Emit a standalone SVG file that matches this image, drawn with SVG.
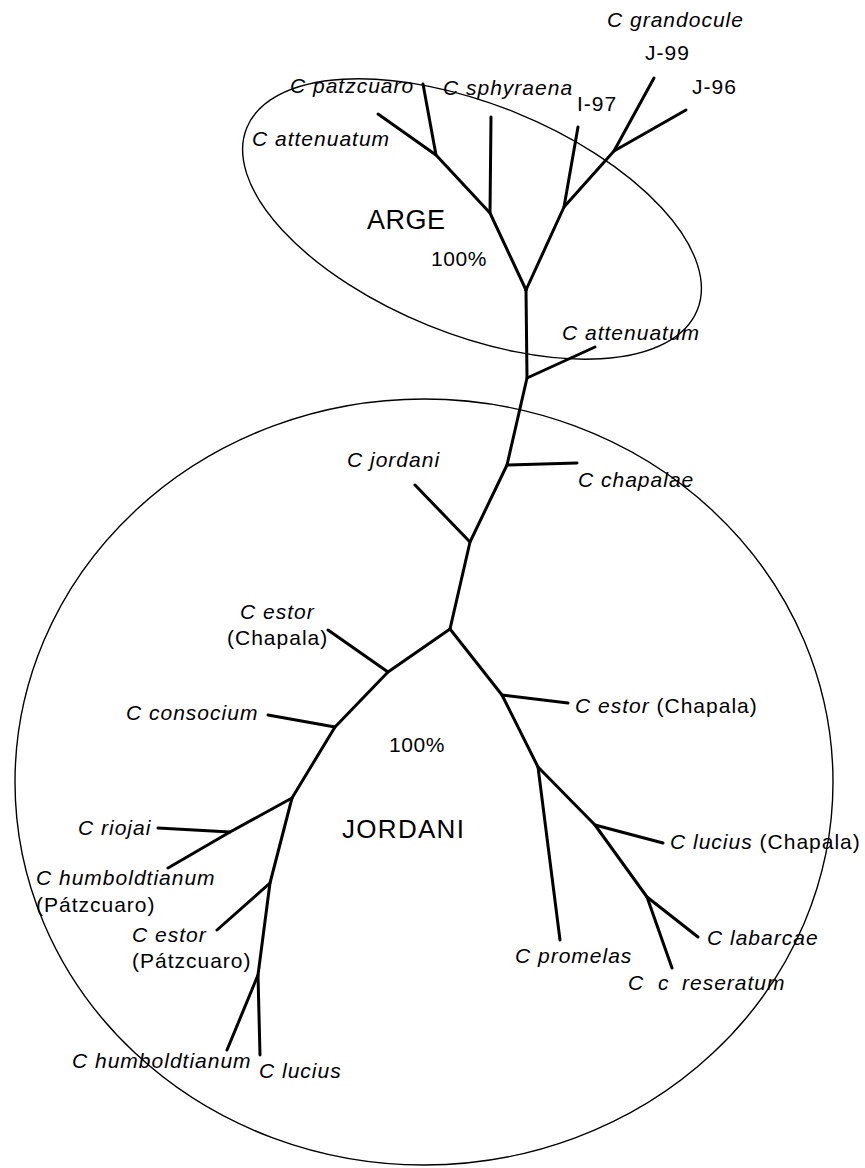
<svg xmlns="http://www.w3.org/2000/svg" width="865" height="1168" viewBox="0 0 865 1168">
  <style>
    .bg { fill: #ffffff; }
    .hull { fill: none; stroke: #000; stroke-width: 1.4; }
    .edge { fill: none; stroke: #000; stroke-width: 3; stroke-linecap: round; stroke-linejoin: round; }
    text { font-family: "Liberation Sans", Arial, sans-serif; font-size: 21px; letter-spacing: 1px; fill: #000; }
    .sp { font-style: italic; }
    .grp { font-size: 26px; letter-spacing: 1.3px; }
    .pct { font-size: 21px; letter-spacing: 0.6px; }
  </style>
  <rect class="bg" x="0" y="0" width="865" height="1168"/>

  <!-- cluster outlines -->
  <g id="clusters">
    <ellipse id="arge-hull" class="hull" cx="472" cy="219" rx="243" ry="115" transform="rotate(22 472 219)"/>
    <ellipse id="jordani-hull" class="hull" cx="424" cy="782" rx="409" ry="383"/>
  </g>

  <!-- tree branches -->
  <g id="connectors">
    <!-- ARGE clade -->
    <path class="edge" d="M526,290 L490,213 L491,117"/>
    <path class="edge" d="M490,213 L436,155 L423,84"/>
    <path class="edge" d="M436,155 L378,114"/>
    <path class="edge" d="M526,290 L564,207 L578,127"/>
    <path class="edge" d="M564,207 L614,151 L654,78"/>
    <path class="edge" d="M614,151 L686,110"/>
    <!-- backbone -->
    <path class="edge" d="M526,290 L527,378 L507,465 L470,542 L450,629"/>
    <path class="edge" d="M527,378 L595,347"/>
    <path class="edge" d="M507,465 L577,463"/>
    <path class="edge" d="M470,542 L415,485"/>
    <!-- left limb -->
    <path class="edge" d="M450,629 L388,672 L335,727 L292,798 L270,883 L258,975 L260,1055"/>
    <path class="edge" d="M388,672 L328,630"/>
    <path class="edge" d="M335,727 L268,715"/>
    <path class="edge" d="M292,798 L230,832 L168,868"/>
    <path class="edge" d="M230,832 L158,828"/>
    <path class="edge" d="M270,883 L217,930"/>
    <path class="edge" d="M258,975 L227,1050"/>
    <!-- right limb -->
    <path class="edge" d="M450,629 L502,695 L538,767 L595,825 L647,897 L672,968"/>
    <path class="edge" d="M502,695 L568,703"/>
    <path class="edge" d="M538,767 L560,940"/>
    <path class="edge" d="M595,825 L663,843"/>
    <path class="edge" d="M647,897 L698,937"/>
  </g>

  <!-- ARGE clade labels -->
  <g id="n-grandocule"><text class="sp" x="607" y="27">C grandocule</text></g>
  <g id="n-j99"><text x="645" y="60">J-99</text></g>
  <g id="n-j96"><text x="692" y="94">J-96</text></g>
  <g id="n-i97"><text x="577" y="111">I-97</text></g>
  <g id="n-patzcuaro"><text class="sp" x="290" y="93">C patzcuaro</text></g>
  <g id="n-sphyraena"><text class="sp" x="443" y="95">C sphyraena</text></g>
  <g id="n-attenuatum-1"><text class="sp" x="252" y="146">C attenuatum</text></g>
  <g id="g-arge">
    <text class="grp" x="367" y="229" style="font-size:27px;letter-spacing:0.5px">ARGE</text>
    <text class="pct" x="431" y="266">100%</text>
  </g>

  <!-- backbone labels -->
  <g id="n-attenuatum-2"><text class="sp" x="562" y="340">C attenuatum</text></g>
  <g id="n-jordani"><text class="sp" x="347" y="467">C jordani</text></g>
  <g id="n-chapalae"><text class="sp" x="578" y="487">C chapalae</text></g>

  <!-- JORDANI clade labels -->
  <g id="g-jordani">
    <text class="pct" x="389" y="752">100%</text>
    <text class="grp" x="342" y="838">JORDANI</text>
  </g>
  <g id="n-estor-chapala-1">
    <text class="sp" x="240" y="619">C estor</text>
    <text x="227" y="645">(Chapala)</text>
  </g>
  <g id="n-consocium"><text class="sp" x="126" y="720">C consocium</text></g>
  <g id="n-riojai"><text class="sp" x="78" y="835">C riojai</text></g>
  <g id="n-humboldtianum-patzcuaro">
    <text class="sp" x="36" y="885">C humboldtianum</text>
    <text x="36" y="912">(Pátzcuaro)</text>
  </g>
  <g id="n-estor-patzcuaro">
    <text class="sp" x="132" y="942">C estor</text>
    <text x="132" y="968">(Pátzcuaro)</text>
  </g>
  <g id="n-humboldtianum"><text class="sp" x="72" y="1068">C humboldtianum</text></g>
  <g id="n-lucius"><text class="sp" x="259" y="1078">C lucius</text></g>
  <g id="n-estor-chapala-2"><text x="575" y="713"><tspan class="sp">C estor</tspan> (Chapala)</text></g>
  <g id="n-lucius-chapala"><text x="670" y="849"><tspan class="sp">C lucius</tspan> (Chapala)</text></g>
  <g id="n-labarcae"><text class="sp" x="707" y="945">C labarcae</text></g>
  <g id="n-promelas"><text class="sp" x="515" y="963">C promelas</text></g>
  <g id="n-reseratum"><text class="sp" y="990"><tspan x="628">C</tspan><tspan x="658">c</tspan><tspan x="682">reseratum</tspan></text></g>
</svg>
